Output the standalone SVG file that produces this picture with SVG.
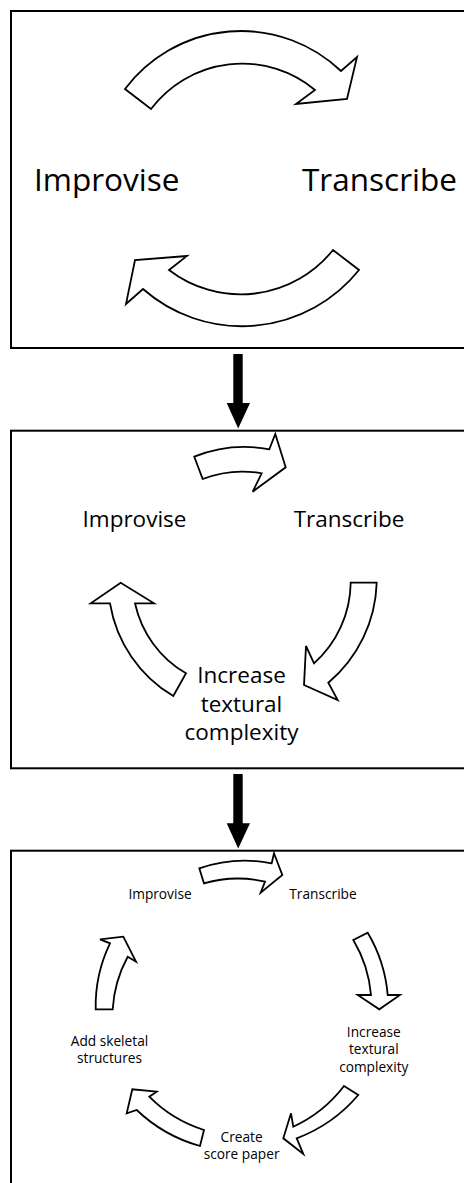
<svg xmlns="http://www.w3.org/2000/svg" width="464" height="1183" viewBox="0 0 464 1183">
  <style>
    .frame { fill: none; stroke: #000; stroke-width: 2; }
    .cyc { fill: #fff; stroke: #000; stroke-width: 1.8; stroke-linejoin: miter; }
    .lbl { font-family: "Open Sans", "Liberation Sans", sans-serif; fill: #000; }
    .big { font-size: 31.5px; }
    .mid { font-size: 22.5px; }
    .small { font-size: 13.7px; }
    .mid, .small { text-anchor: middle; }
  </style>
  <rect width="464" height="1183" fill="#fff"/>

  <!-- stage 1: two-step loop -->
  <g id="stage1">
    <rect class="frame" x="11" y="11" width="460" height="337"/>
    <g id="s1-improvise"><text class="lbl big" x="34" y="190.7">Improvise</text></g>
    <g id="s1-transcribe"><text class="lbl big" x="302" y="190.7">Transcribe</text></g>
  </g>

  <!-- stage 2: three-step loop -->
  <g id="stage2">
    <rect class="frame" x="11" y="430.7" width="460" height="337.6"/>
    <g id="s2-improvise"><text class="lbl mid" x="134.5" y="526.7">Improvise</text></g>
    <g id="s2-transcribe"><text class="lbl mid" x="349" y="526.7">Transcribe</text></g>
    <g id="s2-texture">
      <text class="lbl mid" x="241.5" y="683.3">Increase</text>
      <text class="lbl mid" x="241.5" y="711.7">textural</text>
      <text class="lbl mid" x="241.5" y="740">complexity</text>
    </g>
  </g>

  <!-- stage 3: five-step loop -->
  <g id="stage3">
    <rect class="frame" x="11" y="850.7" width="460" height="340"/>
    <g id="s3-improvise"><text class="lbl small" x="160" y="899">Improvise</text></g>
    <g id="s3-transcribe"><text class="lbl small" x="323" y="899">Transcribe</text></g>
    <g id="s3-texture">
      <text class="lbl small" x="373.8" y="1036.7">Increase</text>
      <text class="lbl small" x="373.8" y="1054.2">textural</text>
      <text class="lbl small" x="373.8" y="1071.7">complexity</text>
    </g>
    <g id="s3-score">
      <text class="lbl small" x="241.6" y="1142.3">Create</text>
      <text class="lbl small" x="241.6" y="1159">score paper</text>
    </g>
    <g id="s3-skeleton">
      <text class="lbl small" x="109.5" y="1045.7">Add skeletal</text>
      <text class="lbl small" x="109.5" y="1062.7">structures</text>
    </g>
  </g>

  <g id="connectors">
    <!-- stage 1 curved block arrows -->
    <path class="cyc" d="M125,89 A145,145 0 0 1 341,71 L357,57 L347,99 L296,104 L315,90 A114,114 0 0 0 151,109 Z"/>
    <path class="cyc" d="M359,270 A150,150 0 0 1 143,289 L126,304 L135,260 L187,256 L169,270 A118,118 0 0 0 333,250 Z"/>

    <!-- stage 2 curved block arrows -->
    <path class="cyc" d="M194.3,456.7 A135,135 0 0 1 269.3,449.3 L275.3,434 L285.7,467.3 L252.7,491.7 L261.7,473.3 A110,110 0 0 0 202.7,479 Z"/>
    <path class="cyc" d="M350.7,582.7 L376.7,582.7 A136,136 0 0 1 328.3,682.7 L337.7,700 L304,685 L306,646 L314,663.3 A110,110 0 0 0 350.7,582.7 Z"/>
    <path class="cyc" d="M186,673.3 L173.3,696 A133,133 0 0 1 110,603.3 L90.7,603.3 L120.7,582.7 L154,603.3 L135,603.3 A107,107 0 0 0 186,673.3 Z"/>

    <!-- stage 3 curved block arrows -->
    <path class="cyc" d="M199.3,868.3 A139,139 0 0 1 271.7,863.3 L274,853.3 L282.3,875 L260.7,892.7 L265,881.7 A121,121 0 0 0 204,883.3 Z"/>
    <path class="cyc" d="M353.3,940 L367.7,932.7 A145,145 0 0 1 387.7,995 L400,995 L379.3,1009.3 L357.7,995 L371,995 A128,128 0 0 0 353.3,940 Z"/>
    <path class="cyc" d="M344,1086 L358.3,1095 A150,150 0 0 1 296.7,1138.3 L303.3,1154 L283.3,1138.3 L291,1113.3 L293.3,1126.7 A135,135 0 0 0 344,1086 Z"/>
    <path class="cyc" d="M204,1130 L200,1146 A150,150 0 0 1 136.7,1110 L126.7,1113.3 L132.3,1089.3 L156.7,1091.7 L149.3,1096.7 A132,132 0 0 0 204,1130 Z"/>
    <path class="cyc" d="M95.7,1009.3 L112.7,1009.3 A125,125 0 0 1 127.7,956.7 L136,961.7 L123.3,936.7 L100,939.3 L110,943.3 A144,144 0 0 0 95.7,1009.3 Z"/>

    <!-- solid arrows between stages -->
    <path d="M233.3,354 L242.7,354 L242.7,403 L250,403 L238.2,428.5 L226.7,403 L233.3,403 Z" fill="#000"/>
    <path d="M233.3,774 L242.7,774 L242.7,823.3 L250,823.3 L238.2,848.5 L226.7,823.3 L233.3,823.3 Z" fill="#000"/>
  </g>
</svg>
